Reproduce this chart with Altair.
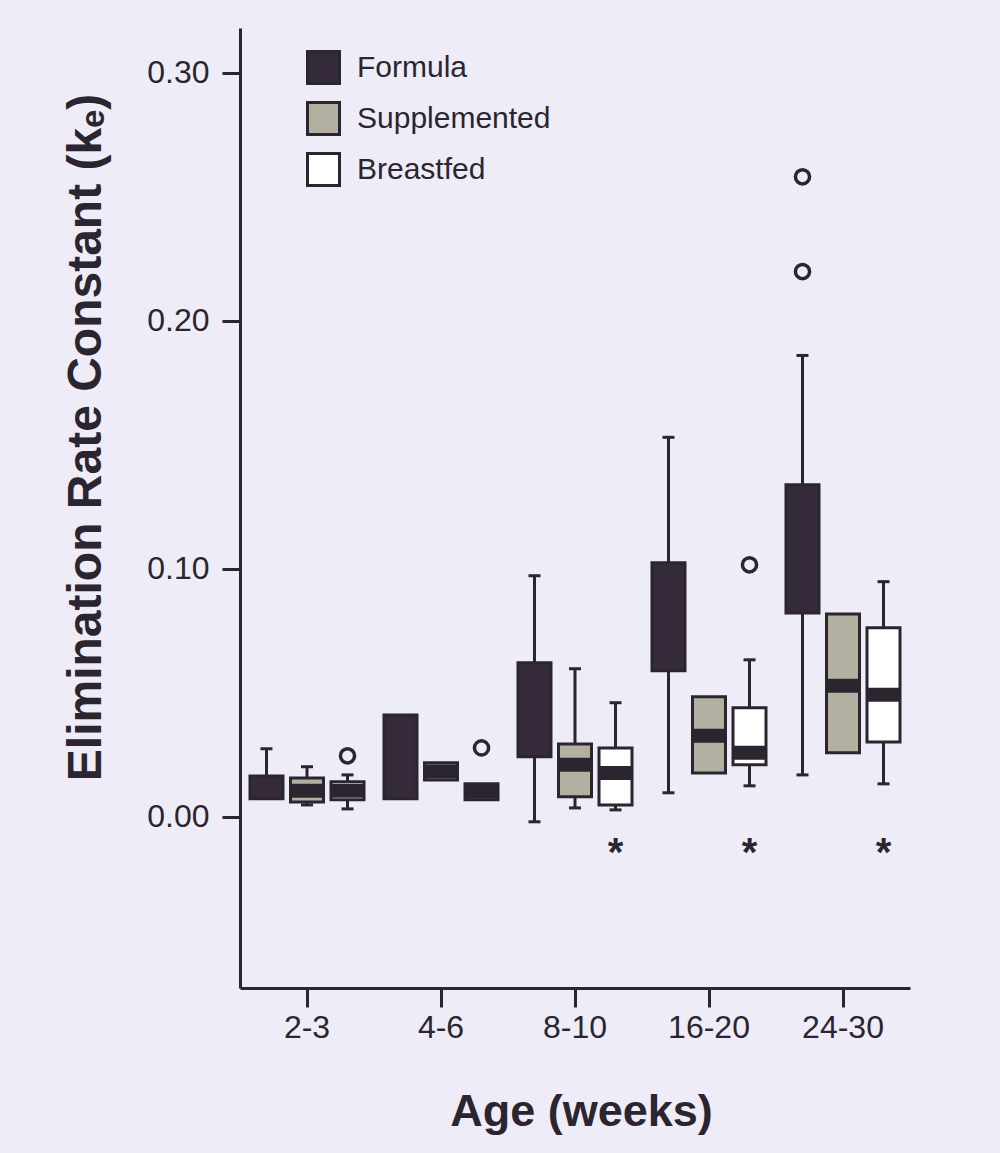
import altair as alt
import pandas as pd

ages = ["2-3", "4-6", "8-10", "16-20", "24-30"]
groups = ["Formula", "Supplemented", "Breastfed"]
fills = ["#352a3a", "#b3b0a2", "#ffffff"]

q1 = {
    "Formula":      [0.0073, 0.0073, 0.0242, 0.0589, 0.0822],
    "Supplemented": [0.0060, 0.0149, 0.0081, 0.0177, 0.0258],
    "Breastfed":    [0.0069, 0.0069, 0.0048, 0.0210, 0.0302],
}
q3 = {
    "Formula":      [0.0165, 0.0411, 0.0621, 0.1024, 0.1339],
    "Supplemented": [0.0157, 0.0218, 0.0294, 0.0484, 0.0818],
    "Breastfed":    [0.0141, 0.0133, 0.0278, 0.0440, 0.0762],
}
median = {
    "Formula":      [None, None, None, None, None],
    "Supplemented": [0.0105, 0.0183, 0.0210, 0.0327, 0.0528],
    "Breastfed":    [0.0105, 0.0101, 0.0177, 0.0258, 0.0492],
}
whisk_hi = {
    "Formula":      [0.0274, None, 0.0972, 0.1530, 0.1860],
    "Supplemented": [0.0202, None, 0.0597, None, None],
    "Breastfed":    [0.0169, None, 0.0460, 0.0633, 0.0948],
}
whisk_lo = {
    "Formula":      [None, None, -0.0020, 0.0097, 0.0169],
    "Supplemented": [0.0048, None, 0.0036, None, None],
    "Breastfed":    [0.0032, None, 0.0028, 0.0125, 0.0133],
}
outlier_age = ["2-3", "4-6", "16-20", "24-30", "24-30"]
outlier_group = ["Breastfed", "Breastfed", "Breastfed", "Formula", "Formula"]
outlier_val = [0.0246, 0.0278, 0.1016, 0.2198, 0.2580]
star_age = ["8-10", "16-20", "24-30"]
star_group = ["Breastfed", "Breastfed", "Breastfed"]
star_val = [-0.011, -0.011, -0.011]

DARK = "#2b2530"
FONT = "Liberation Sans, Arial, Helvetica, sans-serif"

boxes, meds, ups, lows = [], [], [], []
for g in groups:
    for i, a in enumerate(ages):
        boxes.append({"age": a, "group": g, "q1": q1[g][i], "q3": q3[g][i]})
        if median[g][i] is not None:
            meds.append({"age": a, "group": g, "med": median[g][i]})
        if whisk_hi[g][i] is not None:
            ups.append({"age": a, "group": g, "lo": q3[g][i], "hi": whisk_hi[g][i], "cap": whisk_hi[g][i]})
        if whisk_lo[g][i] is not None:
            lows.append({"age": a, "group": g, "lo": whisk_lo[g][i], "hi": q1[g][i], "cap": whisk_lo[g][i]})

df_box = pd.DataFrame(boxes)
df_med = pd.DataFrame(meds)
df_whisk = pd.DataFrame(ups + lows)
df_out = pd.DataFrame({"age": outlier_age, "group": outlier_group, "v": outlier_val})
df_star = pd.DataFrame({"age": star_age, "group": star_group, "v": star_val})

yscale = alt.Scale(domain=[-0.069, 0.318], nice=False, zero=False)
yaxis = alt.Axis(values=[0.0, 0.1, 0.2, 0.3], format=".2f", grid=False,
                 tickSize=18, tickWidth=3, tickColor=DARK, domainWidth=3, domainColor=DARK,
                 labelFontSize=32, labelFont=FONT, labelColor=DARK, labelPadding=13,
                 titleFontSize=48, titleFont=FONT, titleFontWeight="bold", titleColor=DARK,
                 titleAngle=270, titleX=-140, titleY=409, titleAlign="center",
                 titleBaseline="alphabetic")
xscale = alt.Scale(domain=ages, paddingInner=0, paddingOuter=0)
xaxis = alt.Axis(labelAngle=0, grid=False, tickSize=19, tickWidth=3, tickColor=DARK,
                 domainWidth=3, domainColor=DARK, labelFontSize=32, labelFont=FONT,
                 labelColor=DARK, labelPadding=5,
                 titleFontSize=45, titleFont=FONT, titleFontWeight="bold", titleColor=DARK,
                 titleX=341, titleY=137, titleAlign="center", titleBaseline="alphabetic")
YT = "Elimination Rate Constant (k\u2091)"
XT = "Age (weeks)"


def X():
    return alt.X("age:N", sort=ages, scale=xscale, axis=xaxis, title=XT)


def XO():
    return alt.XOffset("group:N", sort=groups,
                       scale=alt.Scale(domain=groups, paddingInner=0, paddingOuter=0.154))


def Y(f):
    return alt.Y(f"{f}:Q", scale=yscale, axis=yaxis, title=YT)


whiskers = alt.Chart(df_whisk).mark_rule(strokeWidth=3, color=DARK, opacity=1).encode(
    x=X(), xOffset=XO(), y=Y("lo"), y2="hi")
caps = alt.Chart(df_whisk).mark_tick(orient="horizontal", size=12, thickness=3, color=DARK,
                                     opacity=1).encode(
    x=X(), xOffset=XO(), y=Y("cap"))
box = alt.Chart(df_box).mark_bar(size=33, stroke=DARK, strokeWidth=3, opacity=1).encode(
    x=X(), xOffset=XO(), y=Y("q1"), y2="q3",
    fill=alt.Fill("group:N", sort=groups,
                  scale=alt.Scale(domain=groups, range=fills),
                  legend=alt.Legend(orient="none", legendX=66, legendY=22, title=None,
                                    symbolType="square", symbolSize=1024,
                                    symbolStrokeColor=DARK, symbolStrokeWidth=3,
                                    symbolOpacity=1, labelLimit=0,
                                    labelFontSize=30, labelFont=FONT, labelColor=DARK,
                                    labelOffset=16, rowPadding=6, padding=0)))
meds_l = alt.Chart(df_med).mark_tick(orient="horizontal", size=33, thickness=14, color=DARK,
                                     opacity=1).encode(
    x=X(), xOffset=XO(), y=Y("med"))
outl = alt.Chart(df_out).mark_point(shape="circle", filled=False, size=200, strokeWidth=3.5,
                                    color=DARK, opacity=1).encode(
    x=X(), xOffset=XO(), y=Y("v"))
stars = alt.Chart(df_star).mark_text(text="*", fontSize=40, fontWeight="bold", font=FONT,
                                     color=DARK, baseline="middle", dy=10).encode(
    x=X(), xOffset=XO(), y=Y("v"))

chart = alt.layer(whiskers, box, meds_l, caps, outl, stars).properties(
    width=670, height=960,
    padding={"left": 240, "top": 28, "right": 90, "bottom": 165},
    autosize=alt.AutoSizeParams(type="none"),
    background="#eeedf7",
).configure_view(stroke=None)

chart.save("out.html", embed_options={"renderer": "svg", "actions": False})
